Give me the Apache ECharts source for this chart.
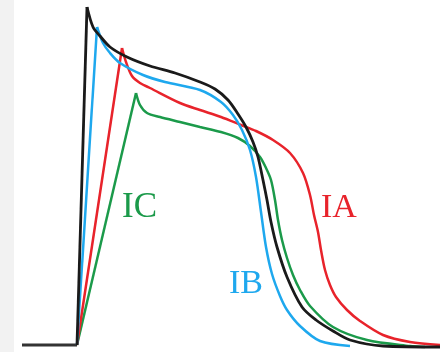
<!doctype html>
<html lang="en">
  <head>
    <meta charset="UTF-8" />
    <title>Action potential - class I antiarrhythmics</title>
    <script src="https://cdn.jsdelivr.net/npm/echarts/dist/echarts.min.js"></script>
    <style>
      html, body { margin: 0; padding: 0; background: #fff; }
      #main { width: 442px; height: 352px; }
    </style>
  </head>
  <body>
    <div id="main"></div>
    <script>
      // resting baseline before the upstroke
      const baseline = [[22, 7], [77, 7]];

      // upstroke (phase 0) of each curve: [time, potential]
      const controlUp = [[77, 7], [87, 345]];
      const ibUp = [[77, 7], [97, 325]];
      const iaUp = [[77, 7], [122, 304]];
      const icUp = [[77, 7], [136, 259]];

      // repolarization (phase 1-4) of each curve
      const controlDecay = [
        [87, 345], [93, 325], [100, 316], [110, 305], [127, 295], [150, 286],
        [175, 279], [200, 270], [215, 263], [228, 252], [238, 238], [246, 225],
        [253, 210], [258, 195], [263, 172], [267, 152], [271, 130], [277, 105],
        [287, 75], [302, 45], [316, 32], [333, 21], [350, 12], [383, 6], [440, 5]
      ];
      const ibDecay = [
        [97, 325], [103, 309], [110, 299], [120, 289], [143, 277], [165, 270],
        [200, 262], [221, 250], [233, 237], [242, 222], [250, 202], [256, 175],
        [261, 140], [266, 105], [272, 78], [280, 56], [287, 42], [300, 26],
        [320, 11], [350, 6]
      ];
      const iaDecay = [
        [122, 304], [126, 290], [132, 276], [140, 269], [150, 264], [180, 249],
        [200, 242], [221, 235], [241, 227], [256, 221], [273, 212], [290, 199],
        [303, 179], [310, 157], [314, 137], [318, 120], [321, 102], [325, 82],
        [330, 67], [336, 55], [347, 42], [360, 31], [383, 17], [410, 10], [440, 7]
      ];
      const icDecay = [
        [136, 259], [140, 247], [147, 239], [160, 235], [180, 230], [200, 225],
        [221, 220], [238, 214], [250, 206], [260, 195], [266, 184], [271, 172],
        [275, 152], [278, 132], [282, 112], [287, 94], [293, 77], [300, 62],
        [310, 46], [333, 25], [367, 12], [410, 6], [425, 5]
      ];

      const colors = {
        control: "#1a1a1a",
        ib: "#1ea8ee",
        ia: "#e8232b",
        ic: "#1b9a4a"
      };

      const chart = echarts.init(document.getElementById("main"));

      function seg(data, color, smooth, width) {
        return {
          type: "line",
          data: data,
          smooth: smooth,
          showSymbol: false,
          silent: true,
          lineStyle: { color: color, width: width || 2.5 }
        };
      }

      chart.setOption({
        animation: false,
        grid: { left: 0, right: 0, top: 0, bottom: 0 },
        xAxis: { type: "value", min: 0, max: 442, show: false },
        yAxis: { type: "value", min: 0, max: 352, show: false },
        graphic: [
          {
            type: "rect",
            shape: { x: 0, y: 0, width: 14, height: 352 },
            style: { fill: "#f2f2f2" },
            z: -10
          },
          {
            type: "text",
            x: 122, y: 208,
            style: {
              text: "IC", fill: colors.ic, fontSize: 35,
              fontFamily: "Liberation Serif", verticalAlign: "middle"
            }
          },
          {
            type: "text",
            x: 321, y: 208,
            style: {
              text: "IA", fill: colors.ia, fontSize: 34,
              fontFamily: "Liberation Serif", verticalAlign: "middle"
            }
          },
          {
            type: "text",
            x: 229, y: 284,
            style: {
              text: "IB", fill: colors.ib, fontSize: 34,
              fontFamily: "Liberation Serif", verticalAlign: "middle"
            }
          }
        ],
        series: [
          seg(baseline, "#333", false, 3),
          seg(icUp, colors.ic, false),
          seg(icDecay, colors.ic, 0.3),
          seg(iaUp, colors.ia, false),
          seg(iaDecay, colors.ia, 0.3),
          seg(ibUp, colors.ib, false),
          seg(ibDecay, colors.ib, 0.3),
          seg(controlUp, colors.control, false, 2.8),
          seg(controlDecay, colors.control, 0.3, 2.8)
        ]
      });
    </script>
  </body>
</html>
